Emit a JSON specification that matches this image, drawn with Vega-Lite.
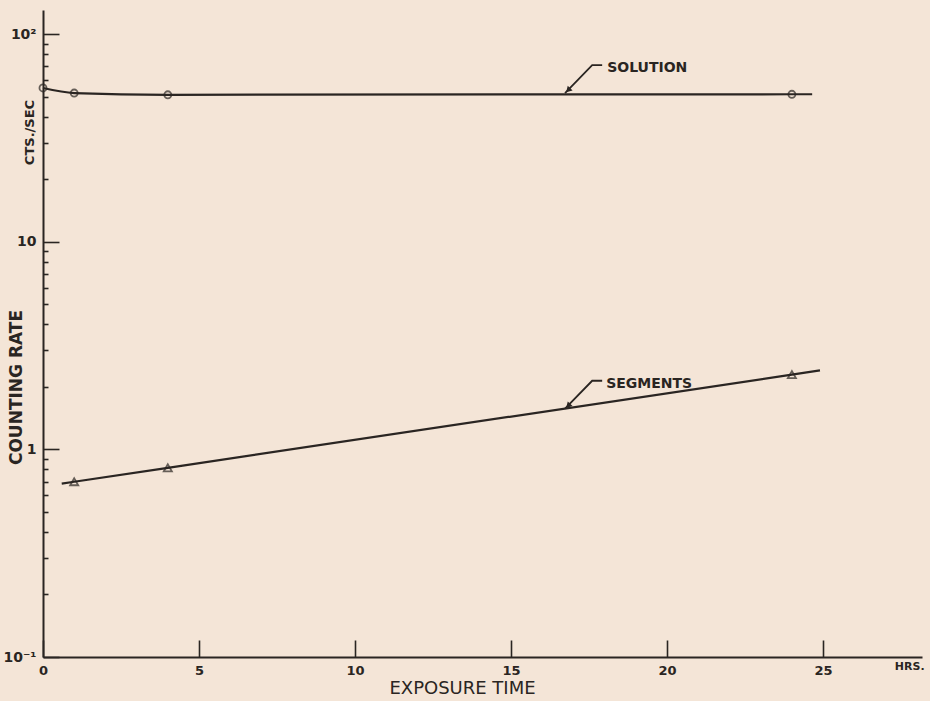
{
  "$schema": "https://vega.github.io/schema/vega-lite/v6.json",
  "width": 879,
  "height": 647,
  "autosize": {"type": "none"},
  "padding": {"left": 43, "top": 10, "right": 8, "bottom": 44},
  "background": "#f4e5d7",
  "config": {
    "view": {"stroke": null},
    "font": "DejaVu Sans",
    "axis": {
      "grid": false,
      "domainColor": "#2a2522",
      "domainWidth": 2,
      "tickColor": "#2a2522",
      "tickWidth": 1.6,
      "labelColor": "#2a2522",
      "titleColor": "#2a2522",
      "labelFont": "DejaVu Sans",
      "titleFont": "DejaVu Sans"
    }
  },
  "datasets": {
    "solPts": [
      {"hrs": 0, "rate": 55},
      {"hrs": 1, "rate": 52},
      {"hrs": 4, "rate": 51},
      {"hrs": 24, "rate": 51.3}
    ],
    "solLine": [
      {"hrs": 0, "rate": 55},
      {"hrs": 1, "rate": 52},
      {"hrs": 4, "rate": 51},
      {"hrs": 24, "rate": 51.3},
      {"hrs": 24.65, "rate": 51.3}
    ],
    "segPts": [
      {"hrs": 1, "rate": 0.698},
      {"hrs": 4, "rate": 0.815},
      {"hrs": 24, "rate": 2.29}
    ],
    "segLine": [
      {"hrs": 0.6, "rate": 0.684},
      {"hrs": 1, "rate": 0.698},
      {"hrs": 4, "rate": 0.815},
      {"hrs": 24, "rate": 2.29},
      {"hrs": 24.9, "rate": 2.4}
    ],
    "leaders": [
      {"label": "SOLUTION", "hrs": 17.92, "rate": 70.9},
      {"label": "SOLUTION", "hrs": 17.6, "rate": 70.9},
      {"label": "SOLUTION", "hrs": 16.73, "rate": 52.0},
      {"label": "SEGMENTS", "hrs": 17.92, "rate": 2.14},
      {"label": "SEGMENTS", "hrs": 17.6, "rate": 2.14},
      {"label": "SEGMENTS", "hrs": 16.73, "rate": 1.57}
    ],
    "arrows": [
      {"label": "SOLUTION", "hrs": 16.83, "rate": 53.7},
      {"label": "SEGMENTS", "hrs": 16.83, "rate": 1.62}
    ],
    "labels": [
      {"text": "SOLUTION", "hrs": 18.08, "rate": 68.6},
      {"text": "SEGMENTS", "hrs": 18.05, "rate": 2.07}
    ],
    "units": [
      {"text": "HRS.", "hrs": 27.3, "rate": 0.1}
    ]
  },
  "layer": [
    {
      "data": {"name": "solLine"},
      "mark": {"type": "line", "color": "#2a2522", "strokeWidth": 2.2, "interpolate": "monotone"},
      "encoding": {
        "x": {
          "field": "hrs", "type": "quantitative",
          "scale": {"domain": [0, 28.17], "nice": false, "zero": false},
          "axis": {
            "values": [0, 5, 10, 15, 20, 25],
            "tickSize": -17,
            "labelPadding": 24,
            "labelFontSize": 13,
            "labelFontWeight": "bold",
            "labelFlush": false,
            "labelOverlap": false,
            "title": "EXPOSURE TIME",
            "titleFontSize": 18,
            "titleFontWeight": "normal",
            "titleX": 419,
            "titleY": 31,
            "titleBaseline": "middle",
            "titleAlign": "center"
          }
        },
        "y": {
          "field": "rate", "type": "quantitative",
          "scale": {"type": "log", "domain": [0.1, 130.6], "nice": false},
          "axis": {
            "orient": "left",
            "values": [0.1, 1, 10, 100],
            "tickSize": -16,
            "labelPadding": 23,
            "labelFontSize": 14,
            "labelFontWeight": "bold",
            "labelOverlap": false,
            "labelFlush": false,
            "labelExpr": "datum.value == 100 ? '10²' : datum.value == 10 ? '10' : datum.value == 1 ? '1' : '10⁻¹'",
            "title": "COUNTING RATE",
            "titleFontSize": 17,
            "titleFontWeight": "bold",
            "titleX": -27,
            "titleY": 377,
            "titleBaseline": "middle",
            "titleAlign": "center",
            "titleAngle": -90
          }
        }
      }
    },
    {
      "data": {"name": "segLine"},
      "mark": {"type": "line", "color": "#2a2522", "strokeWidth": 2.2},
      "encoding": {
        "x": {"field": "hrs", "type": "quantitative"},
        "y": {
          "field": "rate", "type": "quantitative",
          "scale": {"type": "log", "domain": [0.1, 130.6], "nice": false},
          "axis": {
            "orient": "left",
            "values": [0.2, 0.3, 0.4, 0.5, 0.6, 0.7, 0.8, 0.9, 2, 3, 4, 5, 6, 7, 8, 9, 20, 30, 40, 50, 60, 70, 80, 90],
            "tickSize": -5,
            "labels": false,
            "domain": false,
            "title": "CTS./SEC",
            "titleFontSize": 13,
            "titleFontWeight": "bold",
            "titleX": -14,
            "titleY": 122,
            "titleBaseline": "middle",
            "titleAlign": "center",
            "titleAngle": -90
          }
        }
      }
    },
    {
      "data": {"name": "solPts"},
      "mark": {"type": "point", "shape": "circle", "filled": false, "color": "#2a2522", "strokeWidth": 1.8, "size": 50},
      "encoding": {
        "x": {"field": "hrs", "type": "quantitative"},
        "y": {"field": "rate", "type": "quantitative", "axis": null}
      }
    },
    {
      "data": {"name": "segPts"},
      "mark": {"type": "point", "shape": "triangle-up", "filled": false, "color": "#2a2522", "strokeWidth": 1.8, "size": 65},
      "encoding": {
        "x": {"field": "hrs", "type": "quantitative"},
        "y": {"field": "rate", "type": "quantitative", "axis": null}
      }
    },
    {
      "data": {"name": "leaders"},
      "mark": {"type": "line", "color": "#2a2522", "strokeWidth": 1.8},
      "encoding": {
        "x": {"field": "hrs", "type": "quantitative"},
        "y": {"field": "rate", "type": "quantitative", "axis": null},
        "detail": {"field": "label"}
      }
    },
    {
      "data": {"name": "arrows"},
      "mark": {"type": "point", "shape": "triangle-up", "filled": true, "color": "#2a2522", "size": 45, "angle": 224, "opacity": 1},
      "encoding": {
        "x": {"field": "hrs", "type": "quantitative"},
        "y": {"field": "rate", "type": "quantitative", "axis": null}
      }
    },
    {
      "data": {"name": "labels"},
      "mark": {"type": "text", "align": "left", "baseline": "middle", "font": "DejaVu Sans", "fontWeight": "bold", "fontSize": 14, "color": "#2a2522"},
      "encoding": {
        "x": {"field": "hrs", "type": "quantitative"},
        "y": {"field": "rate", "type": "quantitative", "axis": null},
        "text": {"field": "text"}
      }
    },
    {
      "data": {"name": "units"},
      "mark": {"type": "text", "align": "left", "baseline": "middle", "dy": 10, "font": "DejaVu Sans", "fontWeight": "bold", "fontSize": 11, "color": "#2a2522"},
      "encoding": {
        "x": {"field": "hrs", "type": "quantitative"},
        "y": {"field": "rate", "type": "quantitative", "axis": null},
        "text": {"field": "text"}
      }
    }
  ],
  "resolve": {"axis": {"y": "independent"}}
}
